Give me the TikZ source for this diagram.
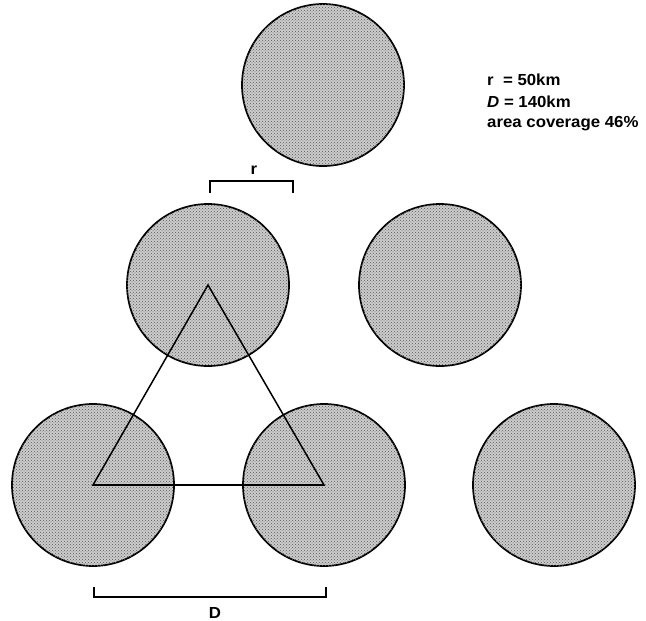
\documentclass[tikz,border=0pt]{standalone}
\usepackage{fontspec}
\setmainfont{Liberation Sans}
\newfontfamily\legendfont[FakeStretch=1.05]{Liberation Sans}
\usetikzlibrary{patterns}

\begin{document}
\begin{tikzpicture}[
    x=1pt, y=-1pt,
    cell/.style={draw=black, circle, minimum size=162pt, inner sep=0pt, line width=1.7pt, fill=black!20, postaction={pattern=crosshatch dots, pattern color=black!65}},
    bracket/.style={draw=black, line width=1.7pt},
    every node/.style={font=\legendfont\bfseries\fontsize{16}{19}\selectfont},
]
  \useasboundingbox (0,0) rectangle (646,621);
  \node[cell] (c0_1) at (323,85) {};
  \node[cell] (c1_0) at (208,285) {};
  \node[cell] (c1_1) at (440,285) {};
  \node[cell] (c2_0) at (93,485) {};
  \node[cell] (c2_1) at (324,485) {};
  \node[cell] (c2_2) at (554,485) {};
  \draw[black, line width=1.5pt, line join=miter] (c1_0.center) -- (c2_0.center) -- (c2_1.center) -- cycle;
  \draw[black, line width=2.4pt] (c2_0.center) -- (c2_1.center);
  \coordinate (rl) at (210,193);
  \coordinate (rr) at (293,193);
  \draw[bracket] (rl) -- ++(0,-12) -| (rr);
  \node (rlab) at (254,170) {r};
  \coordinate (dl) at (94,587);
  \coordinate (dr) at (326,587);
  \draw[bracket] (dl) -- ++(0,10) -| (dr);
  \node (dlab) at (215,613) {D};
  \node[anchor=west, inner sep=0pt] (radius) at (487,80) {r\ \ = 50km};
  \node[anchor=west, inner sep=0pt] (dist) at (487,102) {\textit{D} = 140km};
  \node[anchor=west, inner sep=0pt] (cover) at (487,124) {area coverage 46\%};
\end{tikzpicture}
\end{document}
